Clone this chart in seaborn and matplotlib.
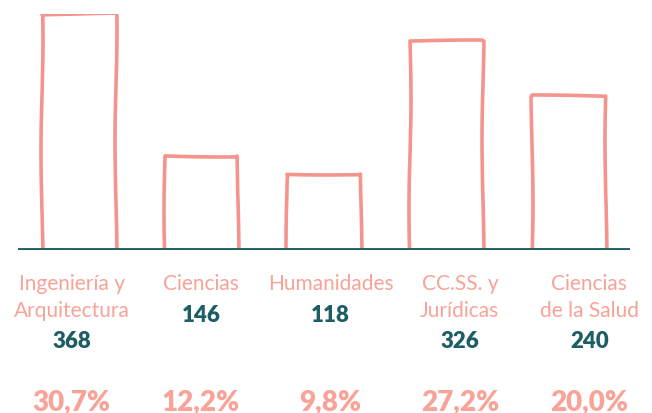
import matplotlib
matplotlib.use("Agg")
from matplotlib import pyplot as plt
import pandas as pd
import seaborn as sns

ramas = ["Ingeniería y\nArquitectura", "Ciencias", "Humanidades",
         "CC.SS. y\nJurídicas", "Ciencias\nde la Salud"]
alumnos = [368, 146, 118, 326, 240]
porcentajes = ["30,7%", "12,2%", "9,8%", "27,2%", "20,0%"]

salmon = "#F4948C"
salmon_txt = "#F8A398"
teal = "#1C5E63"

table = pd.DataFrame({"rama": ramas, "n": alumnos})

sns.set_style("white")
plt.rcParams["font.family"] = ["Lato", "DejaVu Sans"]

fig = plt.figure(figsize=(6.52, 4.14), dpi=100)
ax = fig.add_axes([18 / 652, 163 / 414, 612 / 652, 236 / 414])

sns.barplot(data=table, x="rama", y="n", ax=ax, fill=False,
            edgecolor=salmon, linewidth=2.6, width=0.6)
for p in ax.patches:
    p.set_sketch_params(scale=1.0, length=260, randomness=2)
    p.set_capstyle("round")
    p.set_joinstyle("round")

ax.axhline(0, color=teal, lw=3.5, zorder=5)
ax.set_ylim(0, 368)
ax.set_xlim(-0.5, 4.5)
ax.axis("off")

# texto bajo las barras
lab = fig.add_axes([7 / 652, 0, 647 / 652, 160 / 414])
lab.set_xlim(-0.5, 4.5)
lab.set_ylim(414, 254)
lab.axis("off")
for i, (r, n, pc) in enumerate(zip(ramas, alumnos, porcentajes)):
    lab.text(i, 274, r, ha="center", va="top", fontsize=15,
             color=salmon_txt, fontweight="normal", linespacing=1.45)
    ny = 342 if "\n" in r else 316
    lab.text(i, ny, str(n), ha="center", va="center", fontsize=16,
             color=teal, fontweight="heavy")
    lab.text(i, 402, pc, ha="center", va="center", fontsize=20,
             color=salmon_txt, fontweight="heavy")

fig.savefig("out.png", dpi=100)
